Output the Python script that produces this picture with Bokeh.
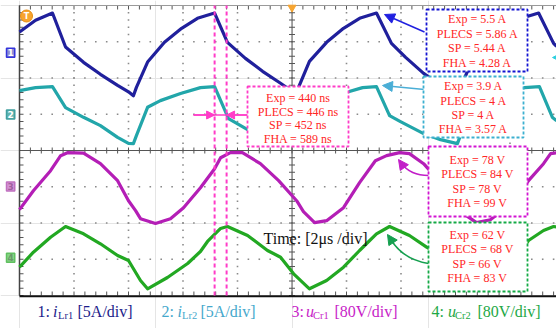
import numpy as np
from bokeh.plotting import figure
from bokeh.models import Range1d, Label, BoxAnnotation, Arrow, NormalHead
from bokeh.embed import file_html
from bokeh.resources import INLINE

# ---------------- data read from the oscilloscope screen ----------------
# time in microseconds (2 us/div), currents in A (5 A/div), voltages in V (80 V/div)
t_ilr1 = [0.00, 0.59, 1.21, 1.69, 2.35, 2.97, 3.60, 4.00, 4.18, 4.29, 4.70, 5.32, 5.95, 6.53,
          7.16, 7.63, 8.29, 8.92, 9.58, 9.95, 10.13, 10.24, 10.64, 11.27, 11.89, 12.48, 13.10,
          13.65, 14.17, 14.83, 15.45, 15.89, 16.07, 16.18, 16.59, 17.21, 17.84, 18.42, 19.05,
          19.60, 19.71]
ilr1_A = [2.84, 4.46, 5.46, 0.77, -1.34, -2.99, -4.51, -5.41, -5.96, -4.79, -1.30, 1.42, 3.35,
          4.73, 5.46, 1.42, -0.79, -2.58, -4.23, -5.20, -5.96, -4.79, -1.20, 1.42, 3.35, 4.73,
          5.46, 1.28, -0.65, -2.86, -4.51, -5.48, -5.96, -4.79, -1.30, 1.42, 3.35, 4.73, 5.46,
          1.28, 0.87]

t_ilr2 = [0.00, 0.59, 1.21, 1.69, 2.35, 2.97, 3.60, 4.00, 4.18, 4.29, 4.70, 5.17, 5.91, 6.64,
          7.16, 7.67, 8.37, 8.92, 9.58, 10.13, 10.24, 10.64, 11.12, 11.85, 12.59, 13.10, 13.58,
          13.98, 14.83, 15.45, 16.07, 16.18, 16.59, 17.06, 17.80, 18.53, 19.08, 19.56, 19.71]
ilr2_A = [3.31, 3.72, 3.86, 0.97, -0.37, -1.52, -3.13, -3.96, -4.00, -2.90, 1.01, 1.93, 2.90,
          3.72, 3.86, -0.55, -2.07, -2.90, -3.66, -4.00, -2.90, 1.01, 1.93, 2.90, 3.72, 3.86,
          -0.14, -0.97, -2.62, -3.45, -4.00, -2.90, 1.01, 1.93, 2.90, 3.72, 3.86, -0.41, -0.83]

t_ucr1 = [0.00, 0.51, 1.14, 1.51, 1.76, 2.35, 2.97, 3.60, 4.00, 4.26, 4.44, 4.99, 5.54, 6.02,
          6.64, 7.16, 7.38, 7.74, 8.18, 8.84, 9.51, 10.17, 10.42, 10.83, 11.27, 11.89, 12.48,
          13.06, 13.47, 13.95, 14.31, 14.83, 15.45, 16.00, 16.29, 16.77, 17.28, 17.84, 18.39,
          18.68, 19.23, 19.49, 19.71]
ucr1_V = [-51.4, -9.5, 34.6, 67.8, 74.4, 73.3, 50.1, 12.6, -31.6, -53.6, -71.3, -81.7, -71.3,
          -47.0, -2.9, 39.1, 63.3, 74.4, 74.4, 50.1, 12.6, -31.6, -55.8, -80.1, -75.7, -47.0,
          8.2, 56.7, 67.8, 74.4, 72.2, 50.1, 8.2, -42.6, -60.2, -80.1, -73.5, -47.0, -9.5,
          12.6, 50.1, 72.2, 74.4]

t_ucr2 = [0.00, 0.51, 1.14, 1.69, 2.35, 2.97, 3.60, 4.00, 4.44, 4.70, 5.43, 6.17, 6.64, 6.90,
          7.38, 7.63, 8.37, 9.10, 9.58, 10.06, 10.64, 11.27, 11.89, 12.48, 13.10, 13.58, 14.31,
          14.94, 15.52, 16.00, 16.59, 17.21, 17.84, 18.42, 18.68, 19.23, 19.60, 19.71]
ucr2_V = [-20.7, 12.4, 45.5, 69.1, 53.0, 30.9, 5.1, -6.0, -50.1, -68.4, -43.5, -12.6, 13.9,
          36.0, 64.7, 69.1, 49.2, 16.1, 1.3, -35.3, -68.4, -50.1, -20.7, 16.1, 53.0, 69.1, 49.2,
          23.4, 2.9, -23.6, -68.4, -50.1, -20.7, 16.1, 38.2, 60.2, 69.1, 68.0]

cursor_t_us = [7.16, 7.60]
trigger_t_us = 10.0

ch_scale = [5, 5, 80, 80]               # units per division
ch_offset_div = [2.70, 0.99, -0.99, -2.96]
ch_marks = ["1", "2", "3", "4"]

box_ns = ["Exp = 440 ns", "PLECS = 446 ns", "SP = 452 ns", "FHA = 589 ns"]
box_ilr1 = ["Exp = 5.5 A", "PLECS = 5.86 A", "SP = 5.44 A", "FHA = 4.28 A"]
box_ilr2 = ["Exp = 3.9 A", "PLECS = 4 A", "SP = 4 A", "FHA = 3.57 A"]
box_ucr1 = ["Exp = 78 V", "PLECS = 84 V", "SP = 78 V", "FHA = 99 V"]
box_ucr2 = ["Exp = 62 V", "PLECS = 68 V", "SP = 66 V", "FHA = 83 V"]

legend_items = [("1: ", "i", "Lr1", "[5A/div]"), ("2: ", "i", "Lr2", "[5A/div]"),
                ("3: ", "u", "Cr1", "[80V/div]"), ("4: ", "u", "Cr2", "[80V/div]")]
time_label = "Time: [2\u03bcs /div]"

# ---------------- layout ----------------
W, H = 556, 328
X0, PXUS = 19.0, 27.25      # px of t = 0, px per microsecond
Y0, PXDIV = 150.0, 36.25    # px of screen centre, px per division
SERIF = "Liberation Serif"


def tx(px):
    return (px - X0) / PXUS


def dy(py):
    return (Y0 - py) / PXDIV


p = figure(width=W, height=H, x_range=Range1d(tx(0), tx(W)),
           y_range=Range1d(dy(H), dy(0)), output_backend="svg",
           toolbar_location=None, x_axis_location=None, y_axis_location=None,
           min_border=0)
p.outline_line_color = None
p.title.visible = False
p.background_fill_color = "white"
p.border_fill_color = "white"

# grid dots
gx, gy = [], []
for tg in range(2, 20, 2):
    if tg == 10:
        continue
    ys = np.arange(-4 + 0.2, 4 - 0.01, 0.2)
    gx += [tg] * len(ys)
    gy += list(ys)
for yg in (-3, -2, -1, 1, 2, 3):
    ts = np.arange(0.4, 20 - 0.01, 0.4)
    gx += list(ts)
    gy += [yg] * len(ts)
p.scatter(gx, gy, marker="square", size=1.6, color="#8a8a8a", line_color=None)

# centre cross, borders and minor ticks
ys_t = np.arange(-4, 4.01, 0.2)
ts_t = np.arange(0, 20.01, 0.4)
x0s, y0s, x1s, y1s = [], [], [], []
for yv in ys_t:
    x0s += [10 - 3 / PXUS, 0]; x1s += [10 + 3 / PXUS, 4 / PXUS]
    y0s += [yv, yv]; y1s += [yv, yv]
for tv in ts_t:
    x0s += [tv, tv, tv]; x1s += [tv, tv, tv]
    y0s += [-3 / PXDIV, -4, 4]; y1s += [3 / PXDIV, -4 + 4 / PXDIV, 4 - 4 / PXDIV]
p.segment(x0s, y0s, x1s, y1s, line_color="#555555", line_width=1)
p.segment([10, 0], [-4, 0], [10, 20], [4, 0], line_color="#555555", line_width=1)
p.segment([0], [4], [20], [4], line_color="#9a9a9a", line_width=1.2)
p.segment([0], [-4], [0], [4], line_color="#444444", line_width=1.5)
p.segment([0], [-4.02], [20], [-4.02], line_color="#111111", line_width=2)


def to_div(vals, k):
    return [ch_offset_div[k] + v / ch_scale[k] for v in vals]


trace_colors = ["#20209c", "#22a6aa", "#b41eb6", "#22a822"]
p.line(t_ilr1, to_div(ilr1_A, 0), line_color=trace_colors[0], line_width=3.2, line_join="round")
p.line(t_ilr2, to_div(ilr2_A, 1), line_color=trace_colors[1], line_width=3.2, line_join="round")
p.line(t_ucr1, to_div(ucr1_V, 2), line_color=trace_colors[2], line_width=3.2, line_join="round")
p.line(t_ucr2, to_div(ucr2_V, 3), line_color=trace_colors[3], line_width=3.2, line_join="round")

# trigger position marker at the top
p.scatter([trigger_t_us], [dy(7)], marker="inverted_triangle", size=8,
          fill_color="#f7a530", line_color="#f7a530")

# cursors
PINK = "#ff3cc8"
p.segment(cursor_t_us, [-4, -4], cursor_t_us, [4, 4], line_color=PINK,
          line_dash="4 3", line_width=2)
ya = dy(114.5)
p.segment([tx(193)], [ya], [tx(247)], [ya], line_color=PINK, line_width=1.5)
p.add_layout(Arrow(end=NormalHead(size=8, fill_color=PINK, line_color=PINK),
                   x_start=tx(193), y_start=ya, x_end=cursor_t_us[0], y_end=ya,
                   line_color=PINK, line_width=1.5))
p.add_layout(Arrow(end=NormalHead(size=8, fill_color=PINK, line_color=PINK),
                   x_start=tx(247), y_start=ya, x_end=cursor_t_us[1], y_end=ya,
                   line_color=PINK, line_width=1.5))

# annotation arrows
BLUE_A, CYAN_A, MAG_A, GRN_A = "#2020e0", "#4aaed6", "#c21ec8", "#16a050"
p.add_layout(Arrow(end=NormalHead(size=10, fill_color=BLUE_A, line_color=BLUE_A),
                   x_start=tx(424), y_start=dy(31.5), x_end=tx(384), y_end=dy(14),
                   line_color=BLUE_A, line_width=1.5))
p.add_layout(Arrow(end=NormalHead(size=10, fill_color=CYAN_A, line_color=CYAN_A),
                   x_start=tx(424), y_start=dy(89), x_end=tx(382), y_end=dy(85),
                   line_color=CYAN_A, line_width=1.5))
p.quadratic(x0=[tx(428)], y0=[dy(175)], x1=[tx(401)], y1=[dy(163)], cx=[tx(410)], cy=[dy(175)],
            line_color=MAG_A, line_width=1.5)
p.add_layout(Arrow(end=NormalHead(size=10, fill_color=MAG_A, line_color=MAG_A),
                   x_start=tx(403), y_start=dy(166), x_end=tx(398), y_end=dy(159),
                   line_color=MAG_A, line_width=1.5))
p.quadratic(x0=[tx(428)], y0=[dy(263)], x1=[tx(391)], y1=[dy(240)], cx=[tx(403)], cy=[dy(259)],
            line_color=GRN_A, line_width=1.5)
p.add_layout(Arrow(end=NormalHead(size=10, fill_color=GRN_A, line_color=GRN_A),
                   x_start=tx(393), y_start=dy(243), x_end=tx(387), y_end=dy(234),
                   line_color=GRN_A, line_width=1.5))
# partially visible cyan arrow head at the right edge
p.add_layout(Arrow(end=NormalHead(size=9, fill_color="#30d0e0", line_color="#30d0e0"),
                   x_start=tx(560), y_start=dy(57), x_end=tx(552), y_end=dy(57),
                   line_color="#30d0e0", line_width=1.5))


def add_box(l, r, t, b, color, texts, cx, ys):
    p.add_layout(BoxAnnotation(left=tx(l), right=tx(r), top=dy(t), bottom=dy(b),
                               fill_color="white", fill_alpha=1.0, line_color=color,
                               line_width=1.8, line_dash="3 2", line_alpha=1.0))
    for s, yy in zip(texts, ys):
        p.add_layout(Label(x=tx(cx), y=dy(yy), text=s, text_align="center",
                           text_baseline="middle", text_color="#ff2626",
                           text_font=SERIF, text_font_size="12px"))


add_box(247, 348, 86, 146, PINK, box_ns, 297.5, [97, 111, 124.5, 138])
add_box(426, 527, 9, 71, "#1414d2", box_ilr1, 477, [18.5, 33, 47.5, 62])
add_box(423, 523, 76, 137, "#3cb0d0", box_ilr2, 473, [85.5, 100, 114.5, 128.5])
add_box(428, 527, 146, 216, "#d214d2", box_ucr1, 477, [159, 173.5, 188, 202.5])
add_box(428, 527, 222, 291, "#14aa46", box_ucr2, 477, [234, 248.5, 263, 277.5])

# channel markers on the left edge
mark_fill = ["#8c8cd2", "#62b4b0", "#d494d4", "#84d484"]
mark_line = ["#3434dc", "#40a0a0", "#c070c0", "#60c060"]
mark_text = ["#ffffff", "#ffffff", "#a060a0", "#6a9a6a"]
for k in range(4):
    p.add_layout(Label(x=tx(6), y=ch_offset_div[k], text=ch_marks[k], text_align="left",
                       text_baseline="middle", text_color=mark_text[k], text_font_style="bold",
                       text_font="DejaVu Sans", text_font_size="9px",
                       background_fill_color=mark_fill[k], border_line_color=mark_line[k],
                       border_line_width=1.5, padding=1))

# trigger level marker
p.scatter([tx(26)], [dy(15.5)], marker="circle", size=12, fill_color="#f7a530",
          line_color="#e88c10")
p.add_layout(Label(x=tx(26), y=dy(15.5), text="T", text_align="center", text_baseline="middle",
                   text_color="white", text_font="DejaVu Sans", text_font_style="bold",
                   text_font_size="8px"))

# time base label
p.add_layout(Label(x=tx(263), y=dy(237.5), text=time_label, text_align="left",
                   text_baseline="middle", text_color="#111111", text_font=SERIF,
                   text_font_size="16px"))

# channel legend at the bottom
leg_colors = ["#1c1c8a", "#45a8cc", "#c81ec8", "#1ea846"]
leg_pos = [(37, 52.5, 57.5, 77), (161, 177, 181.5, 200), (291, 305.5, 312.5, 334),
           (431, 447.5, 454.5, 477)]
for (a, b, c, d), (xa, xb, xc, xd), col in zip(legend_items, leg_pos, leg_colors):
    p.add_layout(Label(x=tx(xa), y=dy(311), text=a, text_align="left", text_baseline="middle",
                       text_color=col, text_font=SERIF, text_font_size="16px"))
    p.add_layout(Label(x=tx(xb), y=dy(311), text=b, text_align="left", text_baseline="middle",
                       text_color=col, text_font=SERIF, text_font_size="16px",
                       text_font_style="italic"))
    p.add_layout(Label(x=tx(xc), y=dy(315), text=c, text_align="left", text_baseline="middle",
                       text_color=col, text_font=SERIF, text_font_size="10.5px"))
    p.add_layout(Label(x=tx(xd), y=dy(311), text=d, text_align="left", text_baseline="middle",
                       text_color=col, text_font=SERIF, text_font_size="16px"))

open("out.html", "w").write(file_html(p, INLINE))
